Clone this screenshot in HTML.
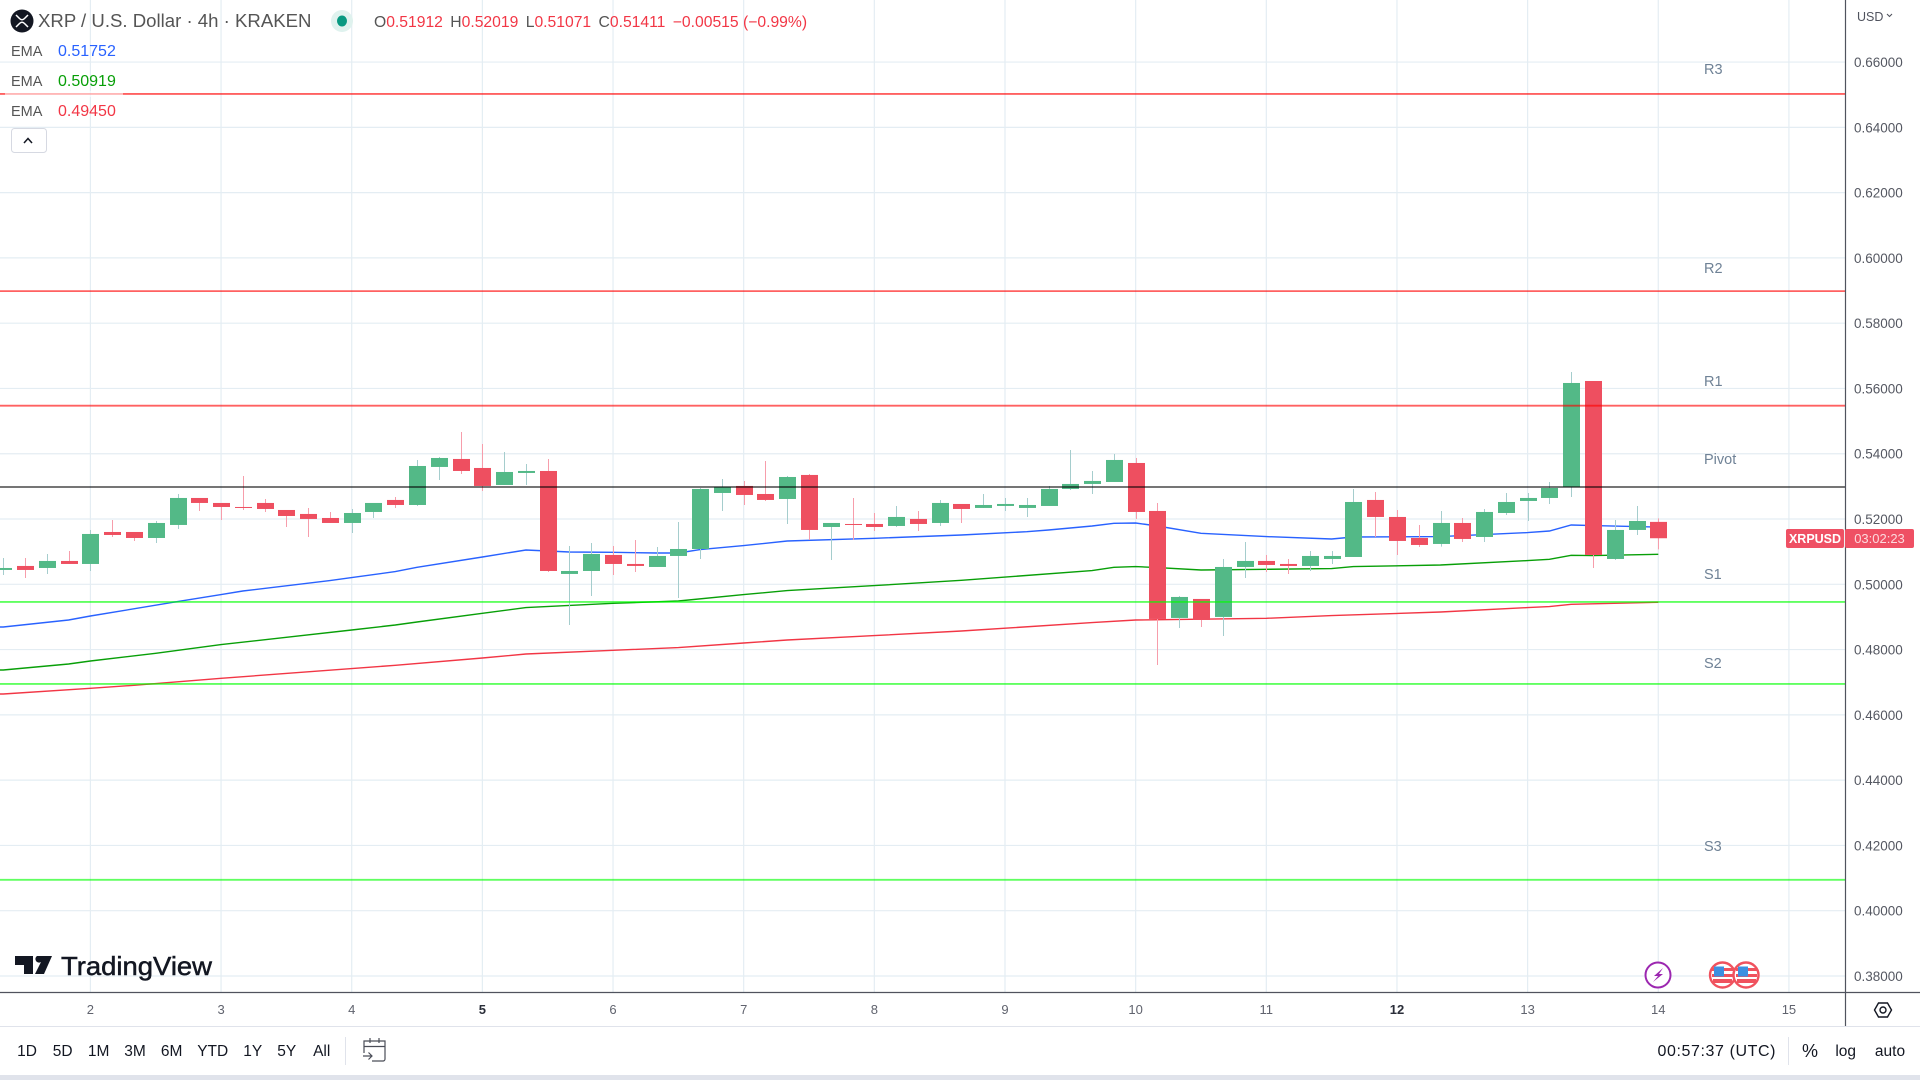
<!DOCTYPE html>
<html lang="en">
<head>
<meta charset="utf-8">
<title>XRP / U.S. Dollar 4h chart</title>
<style>
html,body{margin:0;padding:0;background:#fff;width:1920px;height:1080px;overflow:hidden}
svg{display:block;font-family:"Liberation Sans",sans-serif}
</style>
</head>
<body>
<svg id="chart" xmlns="http://www.w3.org/2000/svg" width="1920" height="1080" viewBox="0 0 1920 1080">
  <rect x="0" y="0" width="1920" height="1080" fill="#ffffff"/>
  <g id="grid"></g>
  <g id="emas"></g>
  <g id="candles"></g>
  <g id="levels"></g>
  <rect x="5" y="91" width="118" height="6" fill="#ffffff" fill-opacity="0.55"/>

  <g>
    <circle cx="22" cy="21" r="11.5" fill="#131722"/>
    <path d="M16 15 L19.5 18.5 Q22 21 24.5 18.5 L28 15 M16 27 L19.5 23.5 Q22 21 24.5 23.5 L28 27" stroke="#fff" stroke-width="1.5" fill="none"/>
    <text x="38" y="27" font-size="18.6" fill="#555555">XRP / U.S. Dollar · 4h · KRAKEN</text>
    <circle cx="342" cy="21" r="11" fill="#dff2ee"/>
    <ellipse cx="342" cy="21" rx="5" ry="5.5" fill="#089981"/>
    <text x="374" y="27" font-size="15.7" fill="#f23645"><tspan fill="#555555">O</tspan>0.51912 <tspan fill="#555555" dx="3">H</tspan>0.52019 <tspan fill="#555555" dx="3">L</tspan>0.51071 <tspan fill="#555555" dx="3">C</tspan>0.51411 <tspan dx="3">−0.00515 (−0.99%)</tspan></text>
  </g>

  <g>
    <text x="11" y="56" font-size="14.5" fill="#555555">EMA</text>
    <text x="58" y="56" font-size="16" fill="#2962ff">0.51752</text>
    <text x="11" y="86" font-size="14.5" fill="#555555">EMA</text>
    <text x="58" y="86" font-size="16" fill="#089f08">0.50919</text>
    <text x="11" y="116" font-size="14.5" fill="#555555">EMA</text>
    <text x="58" y="116" font-size="16" fill="#f23645">0.49450</text>
    <rect x="11.5" y="128.5" width="35" height="24" rx="3" fill="#ffffff" stroke="#d6d9e2"/>
    <path d="M25 143 L29 138.5 L33 143" transform="translate(-1,0)" stroke="#131722" stroke-width="1.5" fill="none"/>
  </g>

  <g font-size="14.5" fill="#6f8296">
    <text x="1704" y="74">R3</text>
    <text x="1704" y="273">R2</text>
    <text x="1704" y="386">R1</text>
    <text x="1704" y="464">Pivot</text>
    <text x="1704" y="579">S1</text>
    <text x="1704" y="668">S2</text>
    <text x="1704" y="851">S3</text>
  </g>

  <g>
    <path d="M15 956 H33 V974 H24 V965 H15 Z M37 956 H52 L44 974 H35 L41 962 A3.5 3.5 0 0 1 37 956 Z" fill="#131722"/>
    <text x="61" y="975" font-size="26" font-weight="400" fill="#131722" stroke="#131722" stroke-width="0.5" textLength="151" lengthAdjust="spacingAndGlyphs">TradingView</text>
  </g>

  <g>
    <circle cx="1658" cy="975" r="12.5" fill="#fff" stroke="#9c27b0" stroke-width="2"/>
    <path d="M1663 968 L1654 976 H1658 L1653 982 L1663 974 H1659 Z" fill="#9c27b0"/>
    <g>
      <circle cx="1722.5" cy="975" r="12.5" fill="#fff" stroke="#f0525e" stroke-width="2.4"/>
      <path d="M1712 968 H1733 V971 H1712 Z M1712 974 H1733 V977 H1712 Z M1713 979 H1732 V983 H1713 Z" fill="#f0525e"/>
      <rect x="1714" y="966.5" width="10" height="10" fill="#3d8fe0"/>
    </g>
    <g>
      <circle cx="1746" cy="975" r="12.5" fill="#fff" stroke="#f0525e" stroke-width="2.4"/>
      <path d="M1736 968 H1757 V971 H1736 Z M1736 974 H1757 V977 H1736 Z M1737 979 H1756 V983 H1737 Z" fill="#f0525e"/>
      <rect x="1738" y="966.5" width="10" height="10" fill="#3d8fe0"/>
    </g>
  </g>

  <line x1="1845.5" y1="0" x2="1845.5" y2="1026" stroke="#50535e" stroke-width="1.2"/>
  <line x1="0" y1="992.5" x2="1920" y2="992.5" stroke="#50535e" stroke-width="1.2"/>
  <g id="priceTicks"></g>
  <g id="timeTicks"></g>

  <text x="1857" y="21" font-size="12.5" fill="#50535e">USD</text>
  <path d="M1887 14 L1889.5 16.5 L1892 14" stroke="#50535e" stroke-width="1.1" fill="none"/>

  <g>
    <rect x="1786" y="529" width="58" height="19" rx="2" fill="#ef5064"/>
    <text x="1815" y="543" font-size="12.5" font-weight="700" fill="#ffffff" text-anchor="middle">XRPUSD</text>
    <rect x="1845" y="529" width="69" height="19" rx="2" fill="#ef5064"/>
    <text x="1879.5" y="543" font-size="13" fill="#fcd9dd" text-anchor="middle">03:02:23</text>
  </g>

  <g>
    <path d="M1874.5 1010 L1878.5 1003 H1887.5 L1891.5 1010 L1887.5 1017 H1878.5 Z" fill="none" stroke="#131722" stroke-width="1.4"/>
    <circle cx="1883" cy="1010" r="3" fill="none" stroke="#131722" stroke-width="1.4"/>
  </g>

  <line x1="0" y1="1026.5" x2="1920" y2="1026.5" stroke="#e0e3eb" stroke-width="1"/>
  <g font-size="15.5" fill="#131722" text-anchor="middle">
    <text x="27" y="1056">1D</text>
    <text x="62.7" y="1056">5D</text>
    <text x="98.7" y="1056">1M</text>
    <text x="135" y="1056">3M</text>
    <text x="171.7" y="1056">6M</text>
    <text x="212.7" y="1056">YTD</text>
    <text x="252.7" y="1056">1Y</text>
    <text x="286.7" y="1056">5Y</text>
    <text x="321.7" y="1056">All</text>
  </g>
  <line x1="345.5" y1="1037" x2="345.5" y2="1065" stroke="#e0e3eb"/>
  <g fill="none" stroke="#4a4d57" stroke-width="1.2">
    <path d="M364 1053 V1041 H385 V1059 A2 2 0 0 1 383 1061 H372 M364 1046.5 H385 M370 1038 V1043 M379 1038 V1043 M363 1056 H372 M368.5 1052.5 L372 1056 L368.5 1059.5"/>
  </g>
  <text x="1657.5" y="1056" font-size="16" fill="#131722" textLength="118" lengthAdjust="spacing">00:57:37 (UTC)</text>
  <line x1="1788.5" y1="1037" x2="1788.5" y2="1065" stroke="#e0e3eb"/>
  <text x="1810" y="1057" font-size="18" fill="#131722" text-anchor="middle">%</text>
  <text x="1845.7" y="1056" font-size="15.5" fill="#131722" text-anchor="middle">log</text>
  <text x="1890" y="1056" font-size="15.5" fill="#131722" text-anchor="middle">auto</text>
  <rect x="0" y="1075" width="1920" height="5" fill="#e0e3eb"/>
</svg>

<script>
var priceTicks = ["0.66000","0.64000","0.62000","0.60000","0.58000","0.56000","0.54000","0.52000","0.50000","0.48000","0.46000","0.44000","0.42000","0.40000","0.38000"];
var dayLabels = ["2","3","4","5","6","7","8","9","10","11","12","13","14","15"];
var boldDays = ["5","12"];
var barsPerDay = 6;
var firstDayBar = 4;

var opens = [.50439,.50562,.50500,.50715,.50623,.51603,.51603,.51419,.51818,.52645,.52492,.52369,.52492,.52277,.52155,.52032,.51879,.52216,.52584,.52430,.53595,.53840,.53564,.53043,.53411,.53472,.50317,.50408,.50899,.50623,.50531,.50868,.51082,.52798,.53013,.52767,.52614,.53350,.51756,.51848,.51848,.51787,.52002,.51879,.52461,.52339,.52400,.52339,.52400,.52921,.53074,.53135,.53717,.52247,.48969,.49551,.49000,.50531,.50715,.50623,.50562,.50776,.50837,.52584,.52063,.51419,.51236,.51879,.51450,.52185,.52553,.52645,.52982,.56229,.50776,.51665,.51912];
var highs = [.50807,.50807,.50929,.51021,.51665,.51971,.51603,.51940,.52767,.52645,.52492,.53319,.52614,.52277,.52339,.52216,.52308,.52492,.52676,.53809,.53901,.54667,.54299,.54054,.53687,.53840,.51174,.51266,.51174,.51358,.51144,.51910,.52951,.53227,.53166,.53778,.53319,.53380,.51879,.52645,.52185,.52400,.52247,.52584,.52461,.52767,.52645,.52645,.53013,.54115,.53472,.53993,.53870,.52492,.49643,.49551,.50776,.51297,.50899,.50776,.51021,.51021,.52921,.52829,.52277,.51818,.52247,.52032,.52308,.52798,.52798,.53135,.56505,.56229,.51971,.52400,.52019];
var lows = [.50286,.50194,.50317,.50623,.50408,.51450,.51328,.51266,.51695,.52247,.51971,.52277,.52216,.51756,.51450,.51879,.51573,.52032,.52339,.52400,.53196,.53380,.52859,.53043,.53043,.50378,.48754,.49643,.50286,.50378,.50531,.49581,.50776,.52247,.52430,.52553,.51848,.51358,.50745,.51358,.51634,.51756,.51634,.51787,.51879,.52339,.52247,.52063,.52400,.52890,.52767,.53135,.52002,.47529,.48662,.48693,.48417,.50194,.50378,.50317,.50408,.50623,.50837,.51450,.50899,.51144,.51154,.51297,.51297,.52124,.51940,.52461,.52676,.50500,.50745,.51511,.51071];
var closes = [.50500,.50439,.50715,.50623,.51542,.51511,.51419,.51879,.52645,.52492,.52369,.52339,.52308,.52093,.52002,.51879,.52185,.52492,.52430,.53625,.53870,.53472,.53013,.53441,.53472,.50408,.50408,.50929,.50623,.50562,.50868,.51082,.52921,.52982,.52737,.52584,.53288,.51665,.51879,.51818,.51756,.52063,.51848,.52492,.52308,.52430,.52461,.52430,.52921,.53074,.53166,.53809,.52216,.48938,.49612,.48907,.50531,.50715,.50592,.50562,.50868,.50868,.52522,.52063,.51328,.51205,.51879,.51389,.52216,.52522,.52645,.52951,.56168,.50899,.51665,.51940,.51411];

var emaFastBars = [0,3,4,8,10,11,15,16,18,19,22,24,26,28,30,31,32,34,36,40,44,47,48,50,51,52,53,55,58,61,62,66,70,71,72,73,76];
var emaFastValues = [.48693,.48907,.49030,.49469,.49683,.49796,.50112,.50204,.50388,.50521,.50837,.51052,.50991,.50980,.50960,.50960,.51062,.51185,.51328,.51409,.51511,.51613,.51665,.51787,.51869,.51879,.51787,.51562,.51460,.51389,.51450,.51460,.51583,.51634,.51818,.51797,.51752];
var emaMidBars = [0,3,4,7,10,16,18,19,22,24,28,31,34,36,40,44,50,51,52,53,55,58,61,62,66,70,71,72,73,76];
var emaMidValues = [.47375,.47559,.47651,.47886,.48152,.48601,.48754,.48846,.49112,.49285,.49418,.49489,.49683,.49806,.49959,.50123,.50419,.50521,.50541,.50511,.50439,.50460,.50480,.50541,.50592,.50725,.50766,.50888,.50878,.50919];
var emaSlowBars = [0,4,6,10,16,18,22,24,28,31,34,36,40,44,50,52,58,61,66,70,71,72,76];
var emaSlowValues = [.46640,.46814,.46906,.47120,.47416,.47518,.47743,.47866,.47978,.48060,.48203,.48295,.48427,.48570,.48826,.48907,.48958,.49040,.49152,.49285,.49316,.49387,.49450];

var levelNames = ["R3","R2","R1","Pivot","S1","S2","S3"];
var levelValues = [.65024,.58983,.55472,.52982,.49459,.46947,.40947];

var SVG_NS = "http://www.w3.org/2000/svg";
var PLOT_RIGHT = 1845;
var PLOT_BOTTOM = 992;

function xScale(bar) { return 3.3 + bar * 21.776; }
function yScale(price) { return 584.3 - (price - 0.5) * 3264; }
function make(tag, parent, attrs) {
  var el = document.createElementNS(SVG_NS, tag);
  for (var k in attrs) { el.setAttribute(k, attrs[k]); }
  parent.appendChild(el);
  return el;
}

var gridGroup = document.getElementById("grid");
var priceGroup = document.getElementById("priceTicks");
priceTicks.forEach(function (label) {
  var y = yScale(parseFloat(label));
  var line = make("line", gridGroup, {x1: 0, x2: PLOT_RIGHT, y1: y, y2: y, stroke: "#e4edf3", "stroke-width": 1.2});
  
  
  var t = make("text", priceGroup, {x: 1854, y: y + 5, "font-size": 13.5, fill: "#555862"});
  t.textContent = label;
  
  
});

var timeGroup = document.getElementById("timeTicks");
dayLabels.forEach(function (label, i) {
  var x = xScale(firstDayBar + i * barsPerDay);
  var line = make("line", gridGroup, {x1: x, x2: x, y1: 0, y2: PLOT_BOTTOM, stroke: "#e4edf3", "stroke-width": 1.2});
  
  
  var isBold = boldDays.indexOf(label) >= 0;
  var t = make("text", timeGroup, {x: x, y: 1014, "font-size": 13, "text-anchor": "middle", fill: isBold ? "#2a2e39" : "#60636e", "font-weight": isBold ? 700 : 400});
  t.textContent = label;
  
  
});

var emaGroup = document.getElementById("emas");
function drawEma(bars, values, color, name) {
  var pts = bars.map(function (b, i) { return xScale(b).toFixed(1) + "," + yScale(values[i]).toFixed(1); });
  if (bars[0] === 0) { pts.unshift("0," + yScale(values[0]).toFixed(1)); }
  var line = make("polyline", emaGroup, {points: pts.join(" "), fill: "none", stroke: color, "stroke-width": 1.4});
  
  
}
drawEma(emaSlowBars, emaSlowValues, "#f23645", "ema-slow-line");
drawEma(emaMidBars, emaMidValues, "#089f08", "ema-mid-line");
drawEma(emaFastBars, emaFastValues, "#2962ff", "ema-fast-line");

var candleGroup = document.getElementById("candles");
var BODY_WIDTH = 17;
opens.forEach(function (open, i) {
  var close = closes[i];
  var up = close >= open;
  var x = Math.round(xScale(i));
  var wick = make("line", candleGroup, {x1: x + 0.5, x2: x + 0.5, y1: yScale(highs[i]), y2: yScale(lows[i]), stroke: up ? "#a5cdcd" : "#f79dab", "stroke-width": 1});
  
  
  var top = yScale(Math.max(open, close));
  var h = Math.max(1, yScale(Math.min(open, close)) - top);
  var body = make("rect", candleGroup, {x: x - 8, y: top, width: BODY_WIDTH, height: h, fill: up ? "#53b987" : "#ee4f60"});
  
  
});

var levelGroup = document.getElementById("levels");
levelNames.forEach(function (name, i) {
  var y = yScale(levelValues[i]);
  var color = name.charAt(0) === "R" ? "#ff0000" : name.charAt(0) === "S" ? "#00ff00" : "#000000";
  var line = make("line", levelGroup, {x1: 0, x2: PLOT_RIGHT, y1: y, y2: y, stroke: color, "stroke-opacity": 0.62, "stroke-width": 1.8});
  
  
});
</script>
</body>
</html>
